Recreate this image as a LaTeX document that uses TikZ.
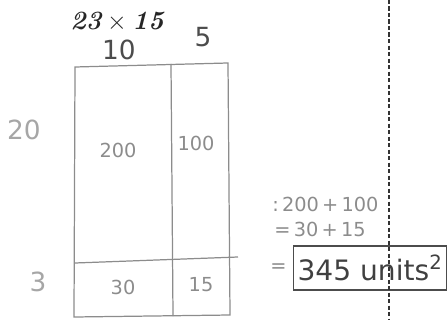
\documentclass[tikz,border=0pt]{standalone}
\usepackage{fontspec}
\setsansfont{DejaVu Sans}
\usetikzlibrary{positioning}

\begin{document}
\begin{tikzpicture}[x=0.02cm,y=-0.02cm,line width=0.6pt,
  hand/.style={font=\sffamily\fontsize{11}{12}\selectfont,text=black!45},
  side/.style={font=\sffamily\fontsize{15}{16}\selectfont,text=black!35},
  grid/.style={draw=black!45,line width=0.7pt}]
\useasboundingbox (0,0) rectangle (448,320);
% ---- title and side lengths ----
\node[font=\rmfamily\itshape\bfseries\fontsize{15}{16}\selectfont,text=black!85] (title) at (117,22) {23${}\times{}$15};
\node[side,text=black!70] (ten) at (119,50) {10};
\node[side,text=black!70] (five) at (203,37) {5};
\node[side] (twenty) at (24,130) {20};
\node[side] (three) at (38,282) {3};
% ---- area model: 2x2 split ----
\draw[grid] (75,67) -- (228,63) -- (230,315) -- (74,317) -- cycle;
\draw[grid] (171,64) -- (173,316);
\draw[grid] (75,263) -- (238,257);
\node[hand] (tl) at (118,150) {200};
\node[hand] (tr) at (196,143) {100};
\node[hand] (bl) at (123,287) {30};
\node[hand] (br) at (201,285) {15};
% ---- working on the right ----
\node[hand,anchor=west] (sumA) at (266,204) {:\,200\,+\,100};
\node[hand,anchor=west] (sumB) at (268,229) {=\,30\,+\,15};
\node[hand,anchor=east] (eq) at (293,268) {=};
\node[font=\sffamily\fontsize{16}{17}\selectfont,text=black!75,draw=black!70,
  line width=0.8pt,minimum width=87pt,minimum height=25pt,inner sep=2pt,anchor=west] (total)
  at (293,268) {345 units$^{\mathsf{2}}$};
% ---- fold line ----
\draw[black!80,dash pattern=on 2.5pt off 1.2pt,line width=0.9pt] (389,0) -- (389,320);
\end{tikzpicture}
\end{document}
